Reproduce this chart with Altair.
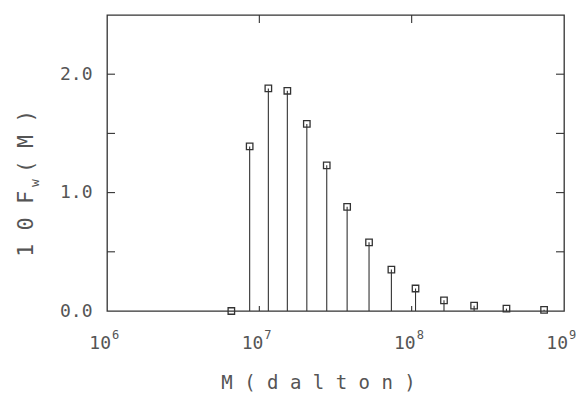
import altair as alt
import pandas as pd

# ---- data ----
molar_mass = [6.55e6, 8.64e6, 1.146e7, 1.527e7, 2.05e7, 2.77e7, 3.77e7,
              5.25e7, 7.36e7, 1.06e8, 1.63e8, 2.57e8, 4.19e8, 7.40e8]
fw10 = [0.0, 1.39, 1.88, 1.86, 1.58, 1.23, 0.88,
        0.58, 0.35, 0.19, 0.09, 0.045, 0.02, 0.01]
x_label_values = [1e6, 1e7, 1e8, 1e9]
x_label_base = ["10", "10", "10", "10"]
x_label_exp = ["6", "7", "8", "9"]
y_label_values = [0.0, 1.0, 2.0]
y_inner_ticks = [0.5, 1.0, 1.5, 2.0]
x_inner_ticks = [1e7, 1e8]
x_title = "M(dalton)"
y_title_main = "10F"
y_title_sub = "w"
y_title_tail = "(M)"

SP = "\u2009"
W, H = 457, 296
TEXT = "#555555"
INK = "#333333"
FONT = "DejaVu Sans Mono"

df = pd.DataFrame({"M": molar_mass, "F": fw10})
xs = alt.Scale(type="log", domain=[1e6, 1e9])
ys = alt.Scale(domain=[0, 2.5])

x_axis = alt.Axis(
    values=x_label_values, labels=False,
    ticks=False, domain=False, grid=False,
    title=SP.join(x_title), titleFont=FONT, titleFontSize=19, titleFontWeight="normal",
    titleColor=TEXT, titleX=211, titleY=77, titleAlign="center",
    titleBaseline="alphabetic", titleAnchor="start",
)
y_axis = alt.Axis(
    values=y_label_values, format=".1f",
    ticks=False, domain=False, grid=False,
    labelFont=FONT, labelFontSize=18, labelColor=TEXT, labelPadding=15,
    title=None,
)

base = alt.Chart(df)
stems = base.mark_rule(color=INK, strokeWidth=1.1).encode(
    x=alt.X("M:Q", scale=xs, axis=x_axis),
    y=alt.Y("F:Q", scale=ys, axis=y_axis),
    y2=alt.datum(0),
)
points = base.mark_point(shape="square", filled=False, size=42,
                         strokeWidth=1.3, color=INK, opacity=1).encode(
    x=alt.X("M:Q", scale=xs),
    y=alt.Y("F:Q", scale=ys),
)

ytick_df = pd.DataFrame({"v": y_inner_ticks})
ytl = alt.Chart(ytick_df).mark_rule(color=INK, strokeWidth=1.1).encode(
    y=alt.Y("v:Q", scale=ys), x=alt.value(0), x2=alt.value(8))
ytr = alt.Chart(ytick_df).mark_rule(color=INK, strokeWidth=1.1).encode(
    y=alt.Y("v:Q", scale=ys), x=alt.value(W - 8), x2=alt.value(W))
xtick_df = pd.DataFrame({"v": x_inner_ticks})
xtt = alt.Chart(xtick_df).mark_rule(color=INK, strokeWidth=1.1).encode(
    x=alt.X("v:Q", scale=xs), y=alt.value(0), y2=alt.value(8))
xtb = alt.Chart(xtick_df).mark_rule(color=INK, strokeWidth=1.1).encode(
    x=alt.X("v:Q", scale=xs), y=alt.value(H), y2=alt.value(H - 5))

lab_df = pd.DataFrame({"v": x_label_values, "b": x_label_base, "e": x_label_exp})
xlab_base = alt.Chart(lab_df).mark_text(
    align="right", baseline="alphabetic", dx=4, font=FONT, fontSize=18, color=TEXT
).encode(x=alt.X("v:Q", scale=xs), y=alt.value(H + 38), text="b:N")
xlab_exp = alt.Chart(lab_df).mark_text(
    align="left", baseline="alphabetic", dx=5, font=FONT, fontSize=12, color=TEXT
).encode(x=alt.X("v:Q", scale=xs), y=alt.value(H + 28), text="e:N")

def rot_text(txt, x, y, size):
    return alt.Chart(alt.Data(values=[{"t": txt}])).mark_text(
        angle=270, align="left", baseline="alphabetic",
        font=FONT, fontSize=size, color=TEXT,
    ).encode(text="t:N", x=alt.value(x), y=alt.value(y))

yt1 = rot_text(SP.join(y_title_main), -74, 242, 22)
yt2 = rot_text(y_title_sub, -68, 172, 13)
yt3 = rot_text(SP.join(y_title_tail), -74, 158, 21)

chart = alt.layer(stems, points, ytl, ytr, xtt, xtb, xlab_base, xlab_exp,
                  yt1, yt2, yt3).properties(
    width=W, height=H,
    autosize=alt.AutoSizeParams(type="none"),
    padding={"left": 99, "top": 7, "right": 13, "bottom": 81},
    background="white",
).configure_view(stroke=INK, strokeWidth=1.3)

chart.save("out.html", embed_options={"renderer": "svg", "actions": False})
